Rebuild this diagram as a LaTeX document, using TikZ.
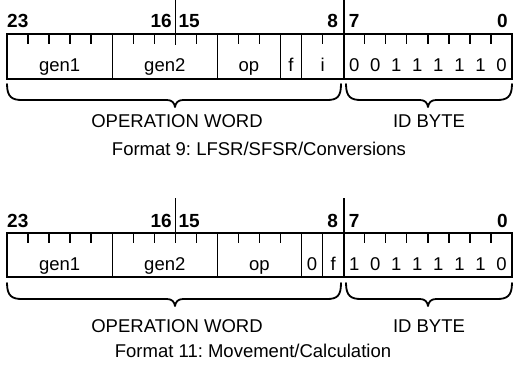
\documentclass[tikz,border=0pt]{standalone}
\usepackage{fontspec}
\setmainfont{Liberation Sans}
\frenchspacing
\begin{document}
\begin{tikzpicture}[x=1pt,y=-1pt,
  frame/.style={line width=1.8pt},
  sep/.style={line width=1.4pt},
  tickline/.style={line width=1.4pt},
  bitnum/.style={font=\fontsize{19}{21}\selectfont\bfseries, inner sep=0pt},
  fld/.style={font=\fontsize{18.5}{20}\selectfont, inner sep=0pt, anchor=base},
  lbl/.style={font=\fontsize{18.5}{20}\selectfont, inner sep=0pt, anchor=base},
  brc/.style={line width=1.8pt, line cap=round, line join=round}]
\useasboundingbox (0,0) rectangle (515,373);
\def\W{21.0417}
% ---------------- Format 9 ----------------
\draw[frame] (7,34) rectangle (512,79);
\foreach \i in {5,10,13,14}{\draw[sep] ({7+\i*\W},34) -- ({7+\i*\W},79);}
\draw[frame] ({7+16*\W},0) -- ({7+16*\W},79);
\draw[tickline] ({7+8*\W},0) -- ({7+8*\W},45);
\foreach \i in {1,2,3,4,6,7,9,11,12,15,17,18,19,20,21,22,23}{\draw[tickline] ({7+\i*\W},34) -- ({7+\i*\W},44);}
\node[bitnum, anchor=base west] (a23) at (7,27) {23};
\node[bitnum, anchor=base east] (a16) at ({7+8*\W-3.5},27) {16};
\node[bitnum, anchor=base west] (a15) at ({7+8*\W+3},27) {15};
\node[bitnum, anchor=base east] (a8) at ({7+16*\W-5.5},27) {8};
\node[bitnum, anchor=base west] (a7) at ({7+16*\W+5},27) {7};
\node[bitnum, anchor=base east] (a0) at (508,27) {0};
\node[fld] (agen1) at ({7+2.5*\W},71) {gen1};
\node[fld] (agen2) at ({7+7.5*\W},71) {gen2};
\node[fld] (aop) at ({7+11.5*\W},71) {op};
\node[fld] (af) at ({7+13.5*\W},71) {f};
\node[fld] (ai) at ({7+15*\W},71) {i};
\foreach \b [count=\k from 0] in {0,0,1,1,1,1,1,0}{\node[fld] (ab\k) at ({7+(16.5+\k)*\W},71) {\b};}
% braces
\draw[brc] (7,84) .. controls (7,97) and (12,100) .. (22,100) -- (167,100) .. controls (172,100) and (174.5,103) .. (175,107)
  .. controls (175.5,103) and (178,100) .. (183,100) -- (327,100) .. controls (337,100) and (341,97) .. (341,84);
\draw[brc] (346,84) .. controls (346,97) and (351,100) .. (361,100) -- (420,100) .. controls (425,100) and (427.5,103) .. (428,107)
  .. controls (428.5,103) and (431,100) .. (436,100) -- (497,100) .. controls (507,100) and (512,97) .. (512,84);
\node[lbl] (aow) at (177,127) {OPERATION WORD};
\node[lbl] (aid) at (429,127) {ID BYTE};
\node[lbl] (acap) at (259,155) {Format 9: LFSR/SFSR/Conversions};
% ---------------- Format 11 ----------------
\draw[frame] (7,233) rectangle (512,277);
\foreach \i in {5,10,14,15}{\draw[sep] ({7+\i*\W},233) -- ({7+\i*\W},277);}
\draw[frame] ({7+16*\W},198) -- ({7+16*\W},277);
\draw[tickline] ({7+8*\W},198) -- ({7+8*\W},243);
\foreach \i in {1,2,3,4,6,7,9,11,12,13,17,18,19,20,21,22,23}{\draw[tickline] ({7+\i*\W},233) -- ({7+\i*\W},243);}
\node[bitnum, anchor=base west] (b23) at (7,227) {23};
\node[bitnum, anchor=base east] (b16) at ({7+8*\W-3.5},227) {16};
\node[bitnum, anchor=base west] (b15) at ({7+8*\W+3},227) {15};
\node[bitnum, anchor=base east] (b8) at ({7+16*\W-5.5},227) {8};
\node[bitnum, anchor=base west] (b7) at ({7+16*\W+5},227) {7};
\node[bitnum, anchor=base east] (b0) at (508,227) {0};
\node[fld] (bgen1) at ({7+2.5*\W},270) {gen1};
\node[fld] (bgen2) at ({7+7.5*\W},270) {gen2};
\node[fld] (bop) at ({7+12*\W},270) {op};
\node[fld] (bz) at ({7+14.5*\W},270) {0};
\node[fld] (bf) at ({7+15.5*\W},270) {f};
\foreach \b [count=\k from 0] in {1,0,1,1,1,1,1,0}{\node[fld] (bb\k) at ({7+(16.5+\k)*\W},270) {\b};}
\draw[brc] (7,283) .. controls (7,296) and (12,299) .. (22,299) -- (167,299) .. controls (172,299) and (174.5,302) .. (175,306)
  .. controls (175.5,302) and (178,299) .. (183,299) -- (327,299) .. controls (337,299) and (341,296) .. (341,283);
\draw[brc] (346,283) .. controls (346,296) and (351,299) .. (361,299) -- (420,299) .. controls (425,299) and (427.5,302) .. (428,306)
  .. controls (428.5,302) and (431,299) .. (436,299) -- (497,299) .. controls (507,299) and (512,296) .. (512,283);
\node[lbl] (bow) at (177,332) {OPERATION WORD};
\node[lbl] (bid) at (429,332) {ID BYTE};
\node[lbl] (bcap) at (253,357) {Format 11: Movement/Calculation};
\end{tikzpicture}
\end{document}
